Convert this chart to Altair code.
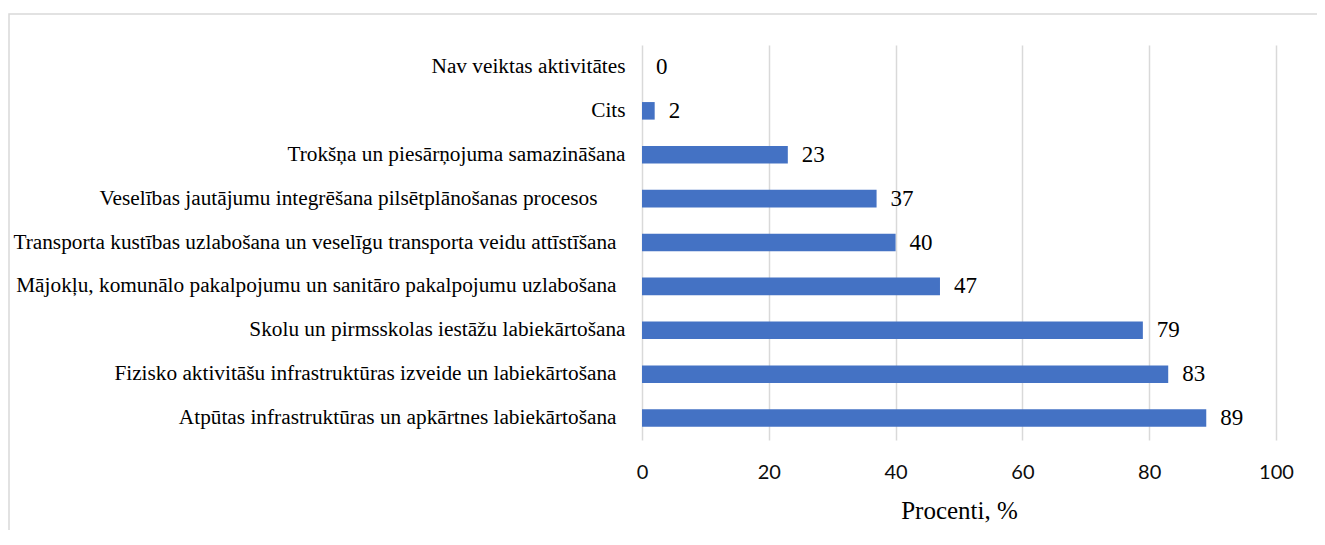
import altair as alt
import pandas as pd

categories = [
    "Nav veiktas aktivitātes",
    "Cits",
    "Trokšņa un piesārņojuma samazināšana",
    "Veselības jautājumu integrēšana pilsētplānošanas procesos",
    "Transporta kustības uzlabošana un veselīgu transporta veidu attīstīšana",
    "Mājokļu, komunālo pakalpojumu un sanitāro pakalpojumu uzlabošana",
    "Skolu un pirmsskolas iestāžu labiekārtošana",
    "Fizisko aktivitāšu infrastruktūras izveide un labiekārtošana",
    "Atpūtas infrastruktūras un apkārtnes labiekārtošana",
]
values = [0, 2, 23, 37, 40, 47, 79, 83, 89]
x_ticks = [0, 20, 40, 60, 80, 100]

df = pd.DataFrame({"cat": categories, "val": values})

W, H = 634, 395

y_enc = alt.Y(
    "cat:N",
    sort=categories,
    scale=alt.Scale(paddingInner=0.6, paddingOuter=0.3),
    axis=alt.Axis(
        title=None,
        domain=False,
        ticks=False,
        labelFont="Liberation Serif",
        labelFontSize=21.3,
        labelColor="#000000",
        labelPadding={
            "condition": [
                {"test": "indexof(datum.value, 'Veselības') == 0", "value": 45},
                {"test": "indexof(datum.value, 'Transporta') == 0 || indexof(datum.value, 'Mājokļu') == 0 || indexof(datum.value, 'Fizisko') == 0 || indexof(datum.value, 'Atpūtas') == 0", "value": 26},
            ],
            "value": 17,
        },
        labelLimit=0,
    ),
)
x_enc = alt.X(
    "val:Q",
    scale=alt.Scale(domain=[0, 100]),
    axis=alt.Axis(
        values=x_ticks,
        title="Procenti, %",
        titleFont="Liberation Serif",
        titleFontSize=25,
        titleFontWeight="normal",
        titleColor="#000000",
        titlePadding=16,
        domain=False,
        ticks=False,
        grid=True,
        gridColor="#d9d9d9",
        gridWidth=1.5,
        labelFont="Lato",
        labelFontSize=20,
        labelColor="#0d0d0d",
        labelPadding=22,
        labelFlush=False,
    ),
)

base = alt.Chart(df)
bars = base.mark_bar(color="#4472C4").encode(y=y_enc, x=x_enc)
labels = base.mark_text(
    align="left", baseline="middle", dx=14, font="Liberation Serif", fontSize=23, color="#000000"
).encode(y=alt.Y("cat:N", sort=categories), x="val:Q", text="val:Q")

frame = alt.Chart(pd.DataFrame({"a": [0]})).mark_rect(
    fill="transparent", stroke="#d9d9d9", strokeWidth=1.5, clip=False
).encode(
    x=alt.value(-633), x2=alt.value(W + 200), y=alt.value(-31), y2=alt.value(H + 300)
)

chart = alt.layer(frame, bars, labels).properties(
    width=W,
    height=H,
    autosize=alt.AutoSizeParams(type="none"),
    padding={"left": 634, "top": 37, "right": 41, "bottom": 90},
).configure_view(stroke=None)

chart.save("out.html", embed_options={"renderer": "svg", "actions": False})
